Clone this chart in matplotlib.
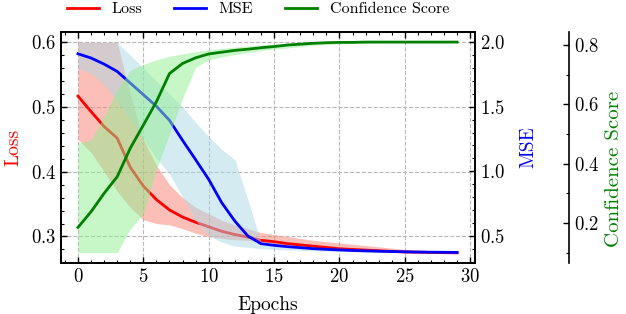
import numpy as np
import matplotlib
matplotlib.use("Agg")
import matplotlib.pyplot as plt

epochs = list(range(30))

loss = [0.517, 0.493, 0.470, 0.452, 0.407, 0.378, 0.357, 0.341, 0.330, 0.322,
        0.315, 0.308, 0.303, 0.299, 0.294, 0.292, 0.289, 0.287, 0.285, 0.283,
        0.281, 0.280, 0.279, 0.278, 0.277, 0.276, 0.2757, 0.2753, 0.275, 0.2747]
loss_upper = [0.600, 0.600, 0.600, 0.600, 0.520, 0.450, 0.410, 0.380, 0.360, 0.345,
              0.335, 0.325, 0.318, 0.312, 0.306, 0.303, 0.300, 0.297, 0.294, 0.292,
              0.290, 0.288, 0.286, 0.284, 0.282, 0.280, 0.279, 0.278, 0.2775, 0.2747]
loss_lower = [0.450, 0.430, 0.400, 0.370, 0.345, 0.326, 0.320, 0.318, 0.312, 0.305,
              0.300, 0.297, 0.295, 0.294, 0.292, 0.289, 0.287, 0.285, 0.283, 0.281,
              0.279, 0.278, 0.277, 0.276, 0.2755, 0.275, 0.2748, 0.2747, 0.2747, 0.2747]

mse = [1.911, 1.878, 1.831, 1.774, 1.684, 1.594, 1.504, 1.395, 1.240, 1.090,
       0.937, 0.756, 0.614, 0.498, 0.439, 0.426, 0.416, 0.408, 0.400, 0.395,
       0.390, 0.386, 0.383, 0.380, 0.378, 0.376, 0.374, 0.373, 0.372, 0.371]
mse_upper = [2.000, 2.000, 2.000, 2.000, 1.900, 1.800, 1.700, 1.600, 1.500, 1.380,
             1.270, 1.170, 1.090, 0.780, 0.450, 0.435, 0.425, 0.416, 0.408, 0.402,
             0.396, 0.391, 0.387, 0.384, 0.381, 0.378, 0.376, 0.374, 0.373, 0.371]
mse_lower = [1.800, 1.760, 1.670, 1.550, 1.400, 1.250, 1.100, 0.980, 0.800, 0.620,
             0.500, 0.450, 0.420, 0.410, 0.400, 0.395, 0.390, 0.386, 0.383, 0.380,
             0.378, 0.376, 0.374, 0.373, 0.372, 0.371, 0.370, 0.370, 0.370, 0.370]

conf = [0.185, 0.238, 0.300, 0.356, 0.452, 0.530, 0.609, 0.704, 0.738, 0.757,
        0.770, 0.776, 0.782, 0.786, 0.791, 0.795, 0.800, 0.803, 0.806, 0.808,
        0.809, 0.809, 0.810, 0.810, 0.810, 0.810, 0.810, 0.810, 0.810, 0.810]
conf_upper = [0.470, 0.480, 0.560, 0.650, 0.715, 0.735, 0.750, 0.762, 0.770, 0.778,
              0.784, 0.789, 0.793, 0.797, 0.800, 0.803, 0.806, 0.808, 0.810, 0.810,
              0.810, 0.810, 0.810, 0.810, 0.810, 0.810, 0.810, 0.810, 0.810, 0.810]
conf_lower = [0.100, 0.100, 0.100, 0.100, 0.180, 0.230, 0.380, 0.500, 0.620, 0.725,
              0.750, 0.760, 0.768, 0.775, 0.781, 0.786, 0.790, 0.795, 0.799, 0.802,
              0.804, 0.806, 0.807, 0.808, 0.809, 0.810, 0.810, 0.810, 0.810, 0.810]

plt.rcParams.update({
    "font.family": "serif",
    "font.serif": ["cmr10", "DejaVu Serif"],
    "mathtext.fontset": "cm",
    "axes.formatter.use_mathtext": True,
    "font.size": 14,
    "xtick.labelsize": 13.5,
    "ytick.labelsize": 13.5,
    "legend.fontsize": 11.5,
    "axes.linewidth": 1.2,
    "xtick.direction": "in",
    "ytick.direction": "in",
    "xtick.major.size": 4.5,
    "ytick.major.size": 4.5,
    "xtick.minor.size": 2.5,
    "ytick.minor.size": 2.5,
    "xtick.major.width": 1.0,
    "ytick.major.width": 1.0,
    "xtick.minor.width": 0.8,
    "ytick.minor.width": 0.8,
})

fig = plt.figure(figsize=(6.26, 3.14), dpi=100)
ax1 = fig.add_axes([0.0974, 0.1624, 0.7588 - 0.0974, 0.899 - 0.1624])
ax2 = ax1.twinx()
ax3 = ax1.twinx()
ax3.spines["right"].set_position(("axes", 1.227))

ax1.fill_between(epochs, loss_lower, loss_upper, color="salmon", alpha=0.5, linewidth=0)
l1, = ax1.plot(epochs, loss, color="red", lw=2.0, label="Loss")
ax2.fill_between(epochs, mse_lower, mse_upper, color="lightblue", alpha=0.5, linewidth=0)
l2, = ax2.plot(epochs, mse, color="blue", lw=2.0, label="MSE")
ax3.fill_between(epochs, conf_lower, conf_upper, color="lightgreen", alpha=0.5, linewidth=0)
l3, = ax3.plot(epochs, conf, color="green", lw=2.0, label="Confidence Score")

ax1.set_xlim(-1.3, 30.37)
ax1.set_ylim(0.259, 0.6165)
ax2.set_ylim(0.289, 2.082)
ax3.set_ylim(0.065, 0.845)

ax1.set_xticks([0, 5, 10, 15, 20, 25, 30])
ax1.set_xticks(range(-1, 31), minor=True)
ax1.set_yticks([0.3, 0.4, 0.5, 0.6])
ax1.set_yticks(np.arange(0.26, 0.62, 0.02), minor=True)
ax2.set_yticks([0.5, 1.0, 1.5, 2.0])
ax2.set_yticks(np.arange(0.3, 2.1, 0.1), minor=True)
ax3.set_yticks([0.2, 0.4, 0.6, 0.8])
ax3.set_yticks(np.arange(0.1, 0.85, 0.1), minor=True)

ax1.tick_params(which="both", top=True, right=False)
ax2.tick_params(which="both", right=True, left=False)
ax3.tick_params(which="both", right=True, left=False)

ax1.grid(True, which="major", linestyle="--", color="#b8b8b8", linewidth=0.8)
ax1.set_axisbelow(True)

ax1.set_xlabel("Epochs", labelpad=7.5)
ax1.set_ylabel("Loss", color="red", labelpad=6)
ax2.set_ylabel("MSE", color="blue", labelpad=10)
ax3.set_ylabel("Confidence Score", color="green", fontsize=15)
ax3.yaxis.set_label_coords(1.313, 0.405)

fig.legend(handles=[l1, l2, l3], loc="center", bbox_to_anchor=(0.412, 0.971),
           ncol=3, frameon=False, handlelength=2.0, handletextpad=0.8,
           columnspacing=2.0, borderpad=0)

fig.savefig("out.png", dpi=100)
